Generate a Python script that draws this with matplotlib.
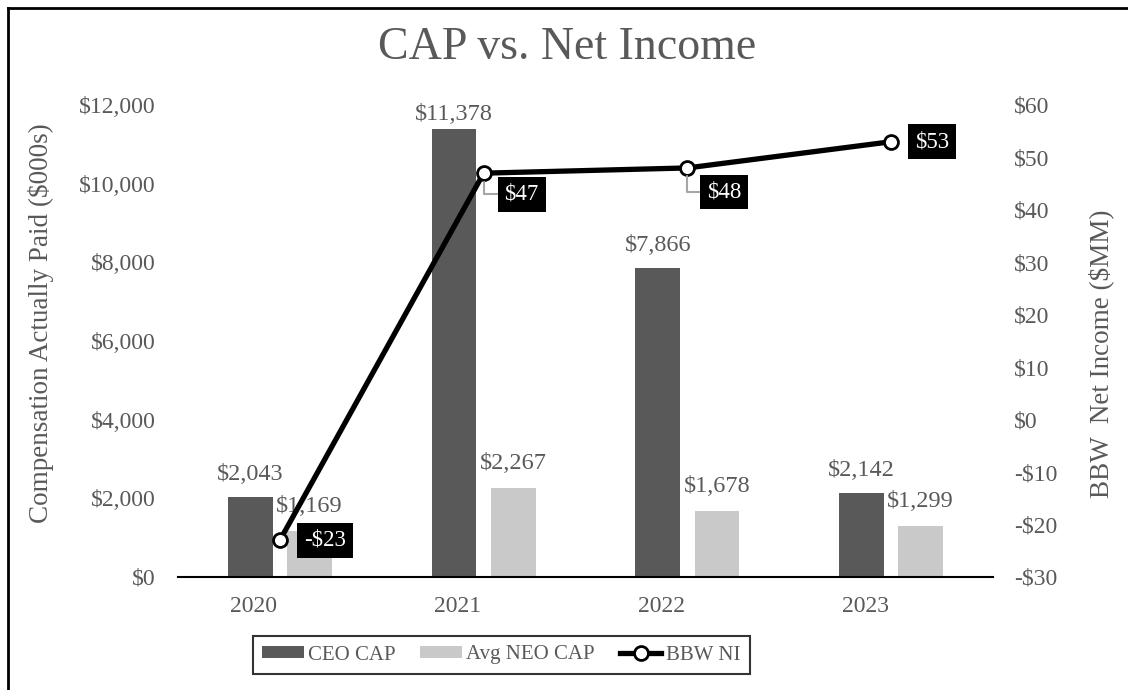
import numpy as np
import matplotlib
matplotlib.use('Agg')
import matplotlib.pyplot as plt
from matplotlib.patches import Patch
from matplotlib.lines import Line2D
from matplotlib.ticker import FuncFormatter

plt.rcParams['font.family'] = ['Liberation Serif', 'DejaVu Serif']

# data
years = ['2020', '2021', '2022', '2023']
ceo_cap = [2043, 11378, 7866, 2142]
neo_cap = [1169, 2267, 1678, 1299]
bbw_ni = [-23, 47, 48, 53]

gray_txt = '#595959'
ceo_col = '#595959'
neo_col = '#c9c9c9'
fs = 17

fig = plt.figure(figsize=(11.28, 6.9), dpi=100)
ax = fig.add_axes([178/1128, 1 - 577/690, 815/1128, 472/690])
ax2 = ax.twinx()

x = np.arange(len(years))
w = 0.22
off = 0.145
b1 = ax.bar(x - off, ceo_cap, w, color=ceo_col, zorder=2)
b2 = ax.bar(x + off, neo_cap, w, color=neo_col, zorder=2)

# label gap above bars (pixels); tallest one is pushed down by plot top
ceo_gap = [12, 4, 12, 12]
for rect, v, g in zip(b1, ceo_cap, ceo_gap):
    ax.annotate('${:,}'.format(v), (rect.get_x() + rect.get_width()/2, v),
                xytext=(0, g), textcoords='offset pixels', ha='center',
                va='bottom', fontsize=fs + 0.5, color=gray_txt)
for rect, v in zip(b2, neo_cap):
    ax.annotate('${:,}'.format(v), (rect.get_x() + rect.get_width()/2, v),
                xytext=(0, 14), textcoords='offset pixels', ha='center',
                va='bottom', fontsize=fs + 0.5, color=gray_txt)

ax.set_xlim(-0.5, 3.5)
ax.set_ylim(0, 12000)
ax.set_yticks(np.arange(0, 12001, 2000))
ax.yaxis.set_major_formatter(FuncFormatter(lambda v, p: '${:,.0f}'.format(v)))
ax.set_xticks(x - 0.127)
ax.set_xticklabels(years)
ax.tick_params(axis='both', length=0, labelsize=fs, labelcolor=gray_txt)
ax.tick_params(axis='x', pad=14)
ax.tick_params(axis='y', pad=16)
for s in ['top', 'left', 'right']:
    ax.spines[s].set_visible(False)
ax.spines['bottom'].set_linewidth(1.5)
ax.spines['bottom'].set_color('black')

ax.set_ylabel('Compensation Actually Paid ($000s)', fontsize=19.5,
              color=gray_txt)
ax.yaxis.set_label_coords((54 - 178)/815, (577 - 323)/472)

# net income line
ax2.plot(x, bbw_ni, color='black', lw=3.8, marker='o', markersize=10,
         markerfacecolor='white', markeredgecolor='black',
         markeredgewidth=2, zorder=5)
ax2.set_ylim(-30, 60)
ax2.set_yticks(np.arange(-30, 61, 10))
ax2.yaxis.set_major_formatter(FuncFormatter(
    lambda v, p: '-${:,.0f}'.format(-v) if v < 0 else '${:,.0f}'.format(v)))
ax2.tick_params(axis='y', length=0, labelsize=fs, labelcolor=gray_txt, pad=15)
for s in ax2.spines.values():
    s.set_visible(False)
ax2.set_ylabel('BBW  Net Income ($MM)', fontsize=19.5, color=gray_txt)
ax2.yaxis.set_label_coords((1088 - 178)/815, (577 - 354)/472)

# black boxed labels with leaders
offsets = [(45, 0), (38, -21), (37, -24), (41, 0)]
leaders = [False, True, True, False]
for xi, v, o, ld in zip(x, bbw_ni, offsets, leaders):
    lbl = '-${}'.format(-v) if v < 0 else '${}'.format(v)
    kw = {}
    if ld:
        kw['arrowprops'] = dict(arrowstyle='-', color='#a6a6a6', lw=1.5,
                                shrinkA=0, shrinkB=6,
                                connectionstyle='angle,angleA=0,angleB=90,rad=0')
    ax2.annotate(lbl, (xi, v), xytext=o, textcoords='offset pixels',
                 ha='center', va='center', fontsize=16.5, color='white',
                 bbox=dict(boxstyle='square,pad=0.3', fc='black', ec='none'),
                 zorder=6, **kw)

fig.suptitle('CAP vs. Net Income', x=567/1128, y=1 - 48/690, va='center',
             fontsize=33, color=gray_txt)

handles = [Patch(facecolor=ceo_col), Patch(facecolor=neo_col),
           Line2D([], [], color='black', lw=3.8, marker='o', markersize=10,
                  markerfacecolor='white', markeredgewidth=2)]
leg = fig.legend(handles, ['CEO CAP', 'Avg NEO CAP', 'BBW NI'], ncol=3,
                 loc='center', bbox_to_anchor=(501/1128, 1 - 655/690),
                 fontsize=15, frameon=True, fancybox=False, handlelength=2.0,
                 handleheight=0.55, handletextpad=0.2, columnspacing=1.2,
                 borderpad=0.45, borderaxespad=0)
leg.get_frame().set_edgecolor('black')
leg.get_frame().set_linewidth(1.5)
for t in leg.get_texts():
    t.set_color(gray_txt)

# outer border (left and top only visible)
fig.add_artist(Line2D([8/1128, 8/1128], [0, 1 - 8/690], color='black',
                      lw=2, transform=fig.transFigure))
fig.add_artist(Line2D([8/1128, 1], [1 - 8/690, 1 - 8/690], color='black',
                      lw=2, transform=fig.transFigure))

fig.savefig('out.png', dpi=100)
